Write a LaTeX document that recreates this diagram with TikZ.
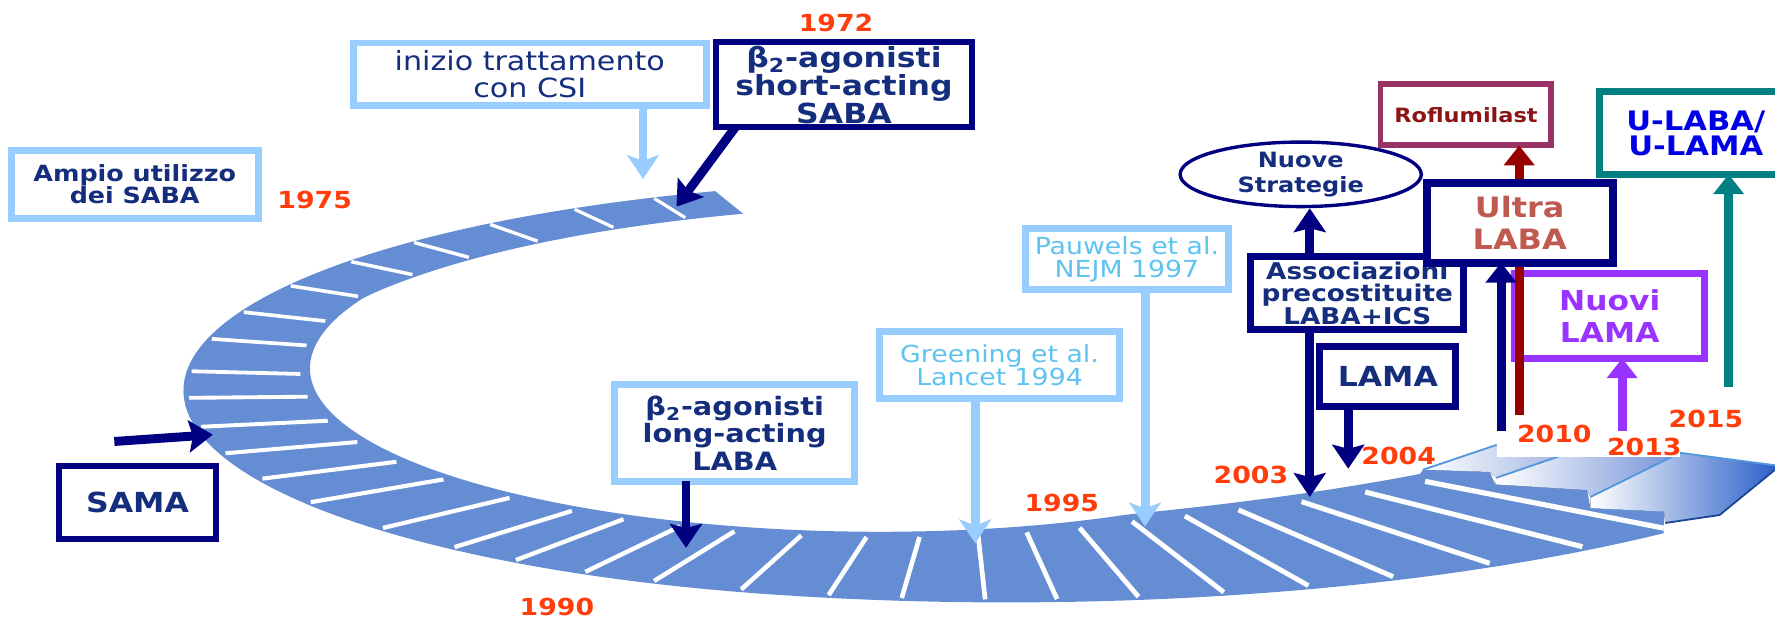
\documentclass[tikz,border=0pt]{standalone}
\usepackage{fontspec}
\setmainfont{DejaVu Sans}[FakeStretch=1.14]
\usetikzlibrary{arrows.meta,shapes.geometric}
\definecolor{navy}{RGB}{0,0,128}
\definecolor{txt}{RGB}{20,45,125}
\definecolor{lbbord}{RGB}{153,204,255}
\definecolor{lbtxt}{RGB}{95,195,240}
\definecolor{yrc}{RGB}{255,60,10}
\definecolor{bandc}{RGB}{101,141,212}
\definecolor{plum}{RGB}{153,51,102}
\definecolor{roflc}{RGB}{140,20,20}
\definecolor{ultc}{RGB}{192,90,80}
\definecolor{purp}{RGB}{153,51,255}
\definecolor{tealc}{RGB}{0,128,128}
\definecolor{ublue}{RGB}{0,0,230}
\definecolor{dred}{RGB}{153,0,0}
\definecolor{ga}{RGB}{150,172,222}
\definecolor{gb}{RGB}{115,145,215}
\definecolor{gc}{RGB}{45,98,200}
\definecolor{gline}{RGB}{80,150,220}
\definecolor{gdark}{RGB}{30,70,150}
\newcommand\bandpath{plot[domain=108.5:323,samples=120,variable=\t] ({850+(688+0.019*pow(max(\t-255,0),2))*cos(\t)},{345-0.27*(688+0.019*pow(max(\t-255,0),2))*sin(\t)}) -- (1470,452) -- (1405,449) -- (1402,433) -- (1321,428) -- (1316,417) -- (1257,415) -- plot[domain=326:108.5,samples=120,variable=\t] ({850+(610-1.28*(min(max(\t,150),290)-150)+0.044*pow(max(\t-290,0),2))*cos(\t)},{345-0.27*(610-1.28*(min(max(\t,150),290)-150)+0.044*pow(max(\t-290,0),2))*sin(\t)}) -- cycle}
\begin{document}
\begin{tikzpicture}[x=0.02cm,y=-0.02cm,
  box/.style={draw, fill=white, inner sep=0pt, outer sep=0pt, align=center},
  lbbox/.style={box, draw=lbbord, line width=3.5pt, text=txt},
  nvbox/.style={box, draw=navy, line width=3pt, text=txt},
  bf/.style={font=\bfseries\fontsize{#1}{#1}\selectfont},
  yr/.style={text=yrc, font=\bfseries\fontsize{11.8}{12}\selectfont, inner sep=0pt},
  navyarr/.style={draw=navy, line width=4.5pt, -{Stealth[length=12pt,width=16pt,inset=2pt]}},
  lbarr/.style={draw=lbbord, line width=4.5pt, -{Stealth[length=12pt,width=16pt,inset=3pt]}},
  uparr/.style={line width=4.5pt, -{Triangle[length=10pt,width=15pt]}},
  stripe/.style={draw=white, line width=#1},
  gedge/.style={draw=gline, line width=0.9pt}
]
\useasboundingbox (0,0) rectangle (1568,546);
\clip (0,0) rectangle (1568,546);

% 3D gradient end of the band
\fill[left color=white, right color=ga] (1257,415) -- (1322,393) -- (1398,396) -- (1322,422) -- (1316,417) -- cycle;
\fill[left color=white, right color=gb] (1322,422) -- (1398,396) -- (1484,400) -- (1405,439) -- (1402,433) -- (1321,428) -- cycle;
\fill[left color=white, right color=gc] (1405,439) -- (1484,400) -- (1568,411) -- (1568,415) -- (1519,455) -- (1471,462) -- (1470,452) -- (1405,449) -- cycle;
\draw[gedge] (1257,415) -- (1322,393);
\draw[gedge] (1322,422) -- (1398,396);
\draw[gedge] (1405,439) -- (1484,400) -- (1568,411);
\draw[draw=gdark, line width=0.9pt] (1568,415) -- (1519,455) -- (1471,462);

% spiral band
\fill[bandc] \bandpath;
\begin{scope}
\clip \bandpath;
\foreach \a in {113.4,120,127.5,135,142,150,158,165.7,174.7,182,190,197.5,205,212.4,221.3,228.8,234.6,240.7,246.4,253.3,260,265.5,271.7,277,283,289.3,295.6,302,309.5,317,324}{
  \pgfmathsetmacro\ro{688+0.019*pow(max(\a-255,0),2)}
  \pgfmathsetmacro\ri{610-1.28*(min(max(\a,150),290)-150)+0.044*pow(max(\a-290,0),2)}
  \pgfmathsetmacro\ra{\ri+0.08*(\ro-\ri)}
  \pgfmathsetmacro\rb{\ri+0.96*(\ro-\ri)}
  \pgfmathsetmacro\lw{1.6+1.0*(\a-108)/216}
  \draw[stripe=\lw pt] ({850+\ra*cos(\a)},{345-0.27*\ra*sin(\a)}) -- ({850+\rb*cos(\a)},{345-0.27*\rb*sin(\a)});
}
\end{scope}

% white patch behind 2010 / 2013
\fill[white] (1322,372) rectangle (1484,404);

% boxes
\node[lbbox, bf=11.2, minimum width=218*0.02cm, minimum height=60*0.02cm] (ampio) at (119,163) {Ampio utilizzo\\dei SABA};
\node[lbbox, font=\fontsize{13.3}{14}\selectfont, minimum width=312*0.02cm, minimum height=55*0.02cm] (inizio) at (468,65.5) {inizio trattamento\\con CSI};
\node[nvbox, bf=13.9, minimum width=226*0.02cm, minimum height=75*0.02cm] (saba) at (745.5,75) {β\textsubscript{2}-agonisti\\short-acting\\SABA};
\node[nvbox, bf=13.9, minimum width=138*0.02cm, minimum height=65*0.02cm] (sama) at (121.5,444) {SAMA};
\node[lbbox, font=\bfseries\fontsize{12.7}{13.7}\selectfont, minimum width=212*0.02cm, minimum height=85*0.02cm] (labal) at (649,382.5) {β\textsubscript{2}-agonisti\\long-acting\\LABA};
\node[lbbox, text=lbtxt, font=\fontsize{11.8}{11.4}\selectfont, minimum width=212*0.02cm, minimum height=59*0.02cm] (greening) at (883,322.5) {Greening et al.\\Lancet 1994};
\node[lbbox, text=lbtxt, font=\fontsize{11.8}{11.4}\selectfont, minimum width=179*0.02cm, minimum height=54*0.02cm] (pauwels) at (995.5,229) {Pauwels et al.\\NEJM 1997};
\node[ellipse, draw=navy, fill=white, line width=1.7pt, inner sep=0pt, align=center, text=txt, font=\bfseries\fontsize{10.6}{12.5}\selectfont, minimum width=213*0.02cm, minimum height=57*0.02cm] (nuove) at (1149,154) {Nuove\\Strategie};
\node[nvbox, line width=3.5pt, font=\bfseries\fontsize{11.6}{11.2}\selectfont, minimum width=188*0.02cm, minimum height=64*0.02cm] (assoc) at (1199,259) {Associazioni\\precostituite\\LABA+ICS};
\node[nvbox, line width=3.5pt, bf=13.9, minimum width=120*0.02cm, minimum height=53*0.02cm] (lama) at (1226,332.5) {LAMA};
\node[box, draw=plum, line width=3pt, text=roflc, bf=9.9, minimum width=151*0.02cm, minimum height=54*0.02cm] (rofl) at (1295,101.5) {Roflumilast};
\node[box, draw=purp, line width=3.5pt, text=purp, font=\bfseries\fontsize{13.8}{15.9}\selectfont, minimum width=168*0.02cm, minimum height=75*0.02cm] (nuovi) at (1422,279) {Nuovi\\LAMA};
\node[box, draw=tealc, line width=3.5pt, text=ublue, font=\bfseries\fontsize{13.5}{12.5}\selectfont, minimum width=170*0.02cm, minimum height=73*0.02cm] (ulaba) at (1498,117.5) {U-LABA/\\U-LAMA};

% arrow end points
\coordinate (tinizio) at (568,158);
\coordinate (tsaba) at (597.6,182.6);
\coordinate (ssama) at (101,390);
\coordinate (tsama) at (188,384);
\coordinate (tlaba) at (606,484);
\coordinate (tgreen) at (861.5,480);
\coordinate (tpauw) at (1011.5,465);
\coordinate (tassoc) at (1157,439);
\coordinate (tlama) at (1191,414);
\coordinate (sultra) at (1326,381);
\coordinate (srofl) at (1342,367);
\coordinate (snuovi) at (1433,381);
\coordinate (steal) at (1527,342);

% arrows
\draw[lbarr] (tinizio |- inizio.south) -- (tinizio);
\draw[navyarr] ([xshift=17*0.02cm]saba.south west) -- (tsaba);
\draw[navyarr] (ssama) -- (tsama);
\draw[navyarr] (tlaba |- labal.south) -- (tlaba);
\draw[lbarr] (tgreen |- greening.south) -- (tgreen);
\draw[lbarr] (tpauw |- pauwels.south) -- (tpauw);
\draw[navyarr] (tassoc |- assoc.south) -- (tassoc);
\draw[navyarr] (tassoc |- assoc.north) -- (tassoc |- nuove.south);
\draw[navyarr] (tlama |- lama.south) -- (tlama);
\draw[uparr, draw=purp] (snuovi) -- (snuovi |- nuovi.south);
\draw[uparr, draw=tealc] (steal) -- (steal |- ulaba.south);
\draw[uparr, draw=dred] (srofl) -- (srofl |- rofl.south);

\node[box, draw=navy, line width=4pt, text=ultc, font=\bfseries\fontsize{14.1}{15.9}\selectfont, minimum width=164*0.02cm, minimum height=70*0.02cm] (ultra) at (1342.5,197) {Ultra\\LABA};
\draw[uparr, draw=navy] (sultra) -- (sultra |- ultra.south);

% years
\node[yr] (y1972) at (738.5,20.6) {1972};
\node[yr] (y1975) at (278,177) {1975};
\node[yr] (y1990) at (492,536) {1990};
\node[yr] (y1995) at (938,444.6) {1995};
\node[yr] (y2003) at (1105,419.7) {2003};
\node[yr] (y2004) at (1235.5,403) {2004};
\node[yr] (y2010) at (1373,383.5) {2010};
\node[yr] (y2013) at (1452.5,395) {2013};
\node[yr] (y2015) at (1507,370) {2015};
\end{tikzpicture}
\end{document}
